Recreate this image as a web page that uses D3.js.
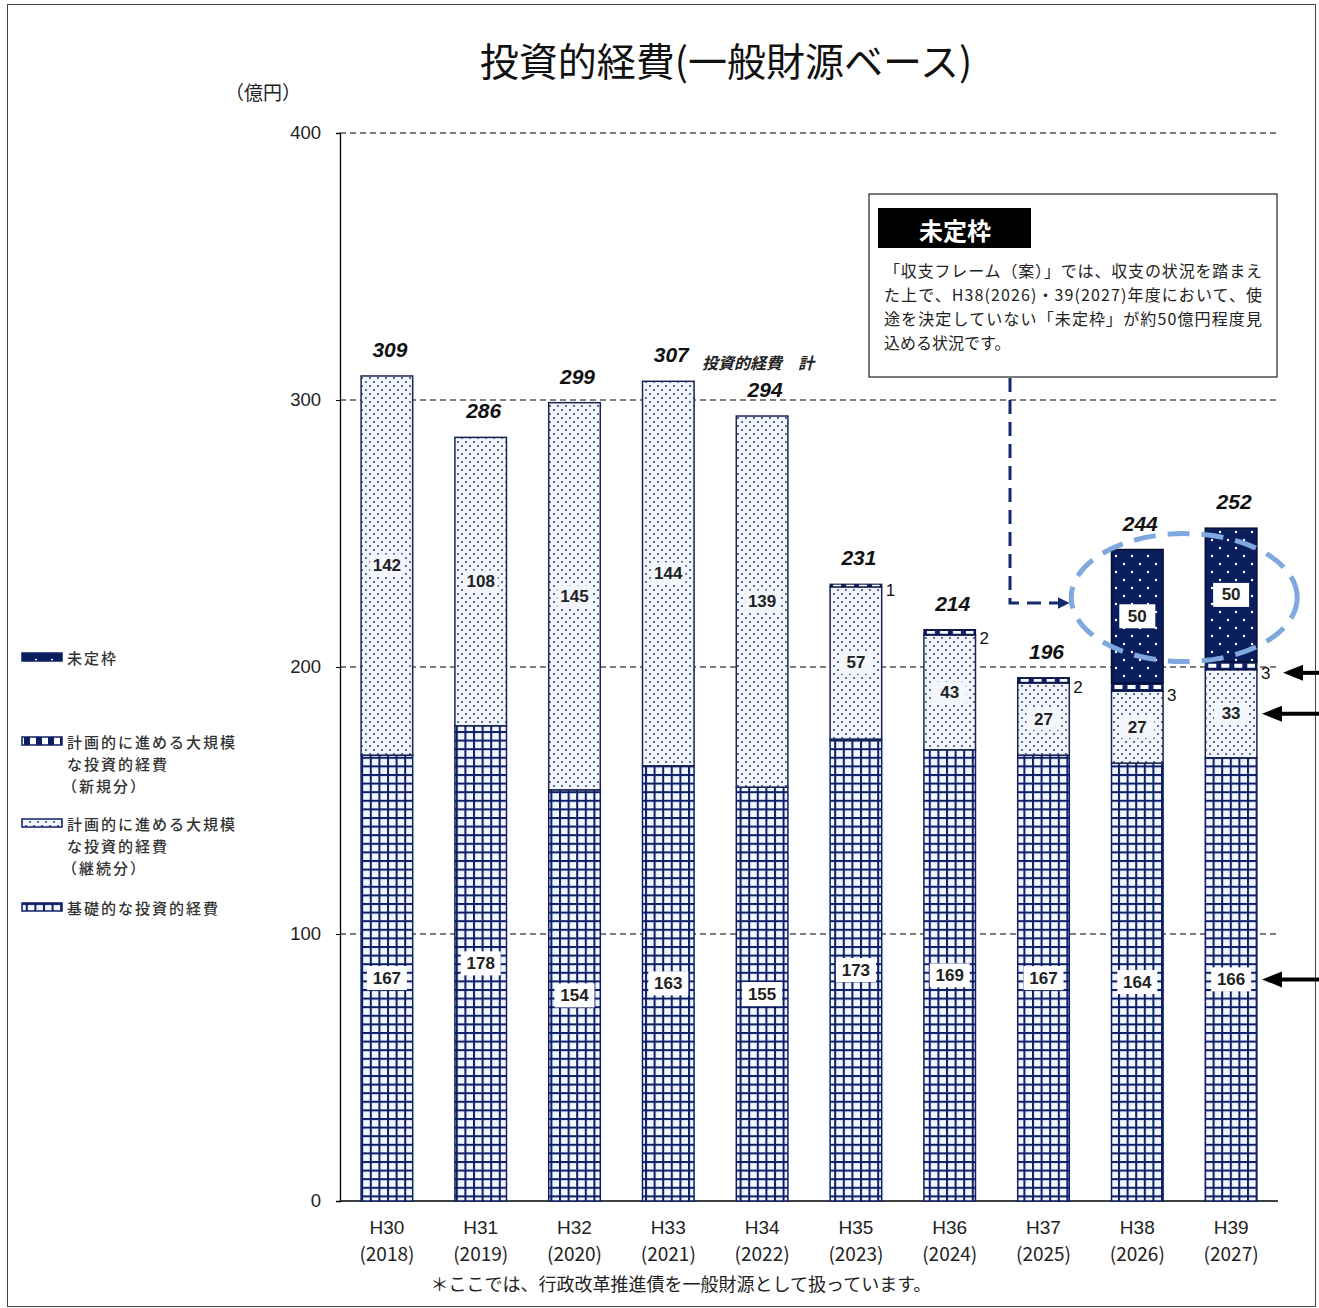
<!DOCTYPE html>
<html><head><meta charset="utf-8">
<script src="https://cdn.jsdelivr.net/npm/d3@7"></script>
<style>
html,body{margin:0;padding:0;background:#fff;}
svg{display:block;}
</style></head>
<body>
<svg id="c" width="1319" height="1308"></svg>
<script>
const categories = ["H30","H31","H32","H33","H34","H35","H36","H37","H38","H39"];
const years = ["(2018)","(2019)","(2020)","(2021)","(2022)","(2023)","(2024)","(2025)","(2026)","(2027)"];
const baseValues = [167,178,154,163,155,173,169,167,164,166];       // 基礎的な投資的経費
const contValues = [142,108,145,144,139,57,43,27,27,33];            // 計画的…（継続分）
const newValues  = [0,0,0,0,0,1,2,2,3,3];                           // 計画的…（新規分）
const undecidedValues = [0,0,0,0,0,0,0,0,50,50];                    // 未定枠
const totals = [309,286,299,307,294,231,214,196,244,252];
const yTicks = [0,100,200,300,400];

const NAVY = "#0c1f66";
const FONT_NUM = "'Liberation Sans', Arial, sans-serif";
const FONT_JP = "'Noto Sans CJK JP', 'Noto Sans', sans-serif";

const svg = d3.select("#c");
const defs = svg.append("defs");

// patterns
const pGrid = defs.append("pattern").attr("id","pGrid").attr("patternUnits","userSpaceOnUse")
  .attr("width",8.6).attr("height",8.6);
pGrid.append("rect").attr("width",8.6).attr("height",8.6).attr("fill","#f2f6ff");
pGrid.append("rect").attr("x",0).attr("y",0).attr("width",2).attr("height",8.6).attr("fill",NAVY);
pGrid.append("rect").attr("x",0).attr("y",0).attr("width",8.6).attr("height",2).attr("fill",NAVY);

const pDots = defs.append("pattern").attr("id","pDots").attr("patternUnits","userSpaceOnUse")
  .attr("width",8).attr("height",8);
pDots.append("rect").attr("width",8).attr("height",8).attr("fill","#f3f7fc");
pDots.append("circle").attr("cx",2).attr("cy",2).attr("r",1.05).attr("fill","#34498f");
pDots.append("circle").attr("cx",6).attr("cy",6).attr("r",1.05).attr("fill","#34498f");

const pDark = defs.append("pattern").attr("id","pDark").attr("patternUnits","userSpaceOnUse")
  .attr("width",16).attr("height",16);
pDark.append("rect").attr("width",16).attr("height",16).attr("fill","#0a1d5c");
pDark.append("circle").attr("cx",4).attr("cy",4).attr("r",1.2).attr("fill","#fff");
pDark.append("circle").attr("cx",12).attr("cy",12).attr("r",1.2).attr("fill","#fff");

const pLegNew = defs.append("pattern").attr("id","pLegNew").attr("patternUnits","userSpaceOnUse")
  .attr("width",12).attr("height",8);
pLegNew.append("rect").attr("width",12).attr("height",8).attr("fill","#fff");
pLegNew.append("rect").attr("x",0).attr("width",6).attr("height",8).attr("fill",NAVY);

// frame
svg.append("rect").attr("x",7.5).attr("y",4.5).attr("width",1308).attr("height",1302)
  .attr("fill","none").attr("stroke","#444").attr("stroke-width",1);

// scales
const x = d3.scaleBand().domain(categories).range([340,1278]).paddingInner(0.45).paddingOuter(0.225);
const y = d3.scaleLinear().domain([0,400]).range([1201,133]);

// grid lines
svg.append("g").selectAll("line").data(yTicks.filter(d=>d>0)).join("line")
  .attr("x1",340).attr("x2",1278).attr("y1",d=>y(d)).attr("y2",d=>y(d))
  .attr("stroke","#555").attr("stroke-width",1.3).attr("stroke-dasharray","6,4");

// y axis
const yAxis = d3.axisLeft(y).tickValues(yTicks).tickSize(4).tickPadding(15);
const gy = svg.append("g").attr("transform","translate(340,0)").call(yAxis);
gy.select(".domain").attr("stroke","#000").attr("stroke-width",1.3);
gy.selectAll(".tick line").attr("stroke","#000");
gy.selectAll("text").attr("font-family",FONT_NUM).attr("font-size",18.5).attr("fill","#222");

// x axis line
svg.append("line").attr("x1",340).attr("x2",1278).attr("y1",y(0)).attr("y2",y(0))
  .attr("stroke","#000").attr("stroke-width",1.5);

// stacked data
const rows = categories.map((c,i)=>{
  const b0 = 0, b1 = baseValues[i];
  const c0 = b1, c1 = b1 + contValues[i];
  const n0 = c1, n1 = c1 + newValues[i];
  const u0 = n1, u1 = n1 + undecidedValues[i];
  return {c,i,b0,b1,c0,c1,n0,n1,u0,u1};
});

const bars = svg.append("g");
rows.forEach(r=>{
  const bx = x(r.c), bw = x.bandwidth();
  bars.append("rect").attr("x",bx).attr("y",y(r.b1)).attr("width",bw).attr("height",y(r.b0)-y(r.b1))
    .attr("fill","url(#pGrid)").attr("stroke",NAVY).attr("stroke-width",1.5);
  bars.append("rect").attr("x",bx).attr("y",y(r.c1)).attr("width",bw).attr("height",y(r.c0)-y(r.c1))
    .attr("fill","url(#pDots)").attr("stroke","#1a2550").attr("stroke-width",1.5);
  if (newValues[r.i] > 0) {
    const h = y(r.n0)-y(r.n1);
    bars.append("rect").attr("x",bx).attr("y",y(r.n1)).attr("width",bw).attr("height",h)
      .attr("fill",NAVY).attr("stroke","#0a1440").attr("stroke-width",1.2);
    bars.append("line").attr("x1",bx+3).attr("x2",bx+bw-2)
      .attr("y1",(y(r.n0)+y(r.n1))/2).attr("y2",(y(r.n0)+y(r.n1))/2)
      .attr("stroke","#fff").attr("stroke-width",Math.max(1.5,h*0.5)).attr("stroke-dasharray","8,5");
  }
  if (undecidedValues[r.i] > 0) {
    bars.append("rect").attr("x",bx).attr("y",y(r.u1)).attr("width",bw).attr("height",y(r.u0)-y(r.u1))
      .attr("fill","url(#pDark)").attr("stroke","#050d30").attr("stroke-width",1.5);
  }
});

function boxLabel(cx, cy, txt, w) {
  bars.append("rect").attr("x",cx-w/2).attr("y",cy-12).attr("width",w).attr("height",24).attr("fill","#fff");
  bars.append("text").attr("x",cx).attr("y",cy).attr("text-anchor","middle").attr("dominant-baseline","central")
    .attr("font-family",FONT_NUM).attr("font-size",17).attr("font-weight","bold").attr("fill","#222").text(txt);
}
rows.forEach(r=>{
  const cx = x(r.c) + x.bandwidth()/2;
  boxLabel(cx, y((r.b0+r.b1)/2), baseValues[r.i], 40);
  const cy = y((r.c0+r.c1)/2);
  bars.append("rect").attr("x",cx-17).attr("y",cy-11).attr("width",34).attr("height",22).attr("fill","#f3f7fc");
  bars.append("text").attr("x",cx).attr("y",cy).attr("text-anchor","middle").attr("dominant-baseline","central")
    .attr("font-family",FONT_NUM).attr("font-size",17).attr("font-weight","bold").attr("fill","#222").text(contValues[r.i]);
  if (newValues[r.i] > 0) {
    bars.append("text").attr("x",x(r.c)+x.bandwidth()+4).attr("y",y(r.n0)+4)
      .attr("dominant-baseline","central")
      .attr("font-family",FONT_NUM).attr("font-size",17).attr("fill","#111").text(newValues[r.i]);
  }
  if (undecidedValues[r.i] > 0) {
    boxLabel(cx, y((r.u0+r.u1)/2), undecidedValues[r.i], 36);
  }
  svg.append("text").attr("x",cx+3).attr("y",y(totals[r.i])-19)
    .attr("text-anchor","middle").attr("font-family",FONT_NUM).attr("font-size",21)
    .attr("font-style","italic").attr("font-weight","bold").attr("fill","#111").text(totals[r.i]);
});

// 投資的経費 計 note next to H33 total
svg.append("text").attr("x",x("H33")+x.bandwidth()+8).attr("y",y(totals[3])-12)
  .attr("font-family",FONT_JP).attr("font-size",16).attr("font-style","italic").attr("font-weight","bold")
  .attr("fill","#222").text("投資的経費　計");

// x labels
const gx = svg.append("g");
categories.forEach((c,i)=>{
  const cx = x(c)+x.bandwidth()/2;
  gx.append("text").attr("x",cx).attr("y",1234).attr("text-anchor","middle")
    .attr("font-family",FONT_NUM).attr("font-size",19).attr("fill","#222").text(c);
  gx.append("text").attr("x",cx).attr("y",1261).attr("text-anchor","middle")
    .attr("font-family",FONT_JP).attr("font-size",19).attr("fill","#222").text(years[i]);
});

// title & unit
svg.append("text").attr("x",726).attr("y",76).attr("text-anchor","middle")
  .attr("font-family",FONT_JP).attr("font-size",39).attr("fill","#111").text("投資的経費(一般財源ベース)");
svg.append("text").attr("x",263).attr("y",100).attr("text-anchor","middle")
  .attr("font-family",FONT_JP).attr("font-size",19).attr("fill","#222").text("（億円）");

// footnote
svg.append("text").attr("x",681).attr("y",1291).attr("text-anchor","middle")
  .attr("font-family",FONT_JP).attr("font-size",18).attr("fill","#222")
  .text("＊ここでは、行政改革推進債を一般財源として扱っています。");

// legend
const legend = [
  {fill:"url(#pDark)", lines:["未定枠"], y:657},
  {fill:"url(#pLegNew)", lines:["計画的に進める大規模","な投資的経費","（新規分）"], y:741},
  {fill:"url(#pDots)", lines:["計画的に進める大規模","な投資的経費","（継続分）"], y:823},
  {fill:"url(#pGrid)", lines:["基礎的な投資的経費"], y:907}
];
const lg = svg.append("g");
legend.forEach(l=>{
  lg.append("rect").attr("x",22).attr("y",l.y-4).attr("width",40).attr("height",8)
    .attr("fill",l.fill).attr("stroke",NAVY).attr("stroke-width",1.5);
  l.lines.forEach((t,k)=>{
    lg.append("text").attr("x", k===2 ? 62 : 67).attr("y",l.y+k*22).attr("dominant-baseline","central")
      .attr("font-family",FONT_JP).attr("font-size",15).attr("letter-spacing",2)
      .attr("font-weight",500).attr("fill","#333").text(t);
  });
});

// annotation box
const ab = svg.append("g");
ab.append("rect").attr("x",869).attr("y",194).attr("width",408).attr("height",183)
  .attr("fill","#fff").attr("stroke","#222").attr("stroke-width",1.2);
ab.append("rect").attr("x",878).attr("y",208).attr("width",153).attr("height",40).attr("fill","#000");
ab.append("text").attr("x",955).attr("y",229).attr("text-anchor","middle").attr("dominant-baseline","central")
  .attr("font-family",FONT_JP).attr("font-size",24).attr("font-weight","bold").attr("fill","#fff").text("未定枠");
const noteLines = ["「収支フレーム（案）」では、収支の状況を踏まえ",
  "た上で、H38(2026)・39(2027)年度において、使",
  "途を決定していない「未定枠」が約50億円程度見",
  "込める状況です。"];
noteLines.forEach((t,k)=>{
  const tx = ab.append("text").attr("x",884).attr("y",270+k*24).attr("dominant-baseline","central")
    .attr("font-family",FONT_JP).attr("font-size",16).attr("fill","#222").text(t);
  if (k<3) tx.attr("textLength",378).attr("lengthAdjust","spacing");
});

// dashed connector with arrow
defs.append("marker").attr("id","arrN").attr("viewBox","0 0 10 10").attr("refX",2).attr("refY",5)
  .attr("markerWidth",4).attr("markerHeight",4).attr("orient","auto")
  .append("path").attr("d","M0,0 L10,5 L0,10 Z").attr("fill","#14296e");
svg.append("path").attr("d","M1010,378 L1010,603 L1060,603")
  .attr("fill","none").attr("stroke","#14296e").attr("stroke-width",3)
  .attr("stroke-dasharray","14,8").attr("marker-end","url(#arrN)");

// ellipse highlight
const ecx = (x("H38")+x("H39")+x.bandwidth())/2;
svg.append("ellipse").attr("cx",ecx).attr("cy",y(226)).attr("rx",113).attr("ry",64)
  .attr("fill","none").attr("stroke","#7ea8de").attr("stroke-width",5).attr("stroke-dasharray","22,12");

// black arrows pointing to H39 values
const arrows = [
  {yv: rows[9].n0 - 1.2, tip: 1283},
  {yv: (rows[9].c0+rows[9].c1)/2, tip: 1262},
  {yv: (rows[9].b0+rows[9].b1)/2, tip: 1262}
];
arrows.forEach(a=>{
  const ay = y(a.yv);
  svg.append("line").attr("x1",a.tip+14).attr("x2",1319).attr("y1",ay).attr("y2",ay)
    .attr("stroke","#000").attr("stroke-width",4);
  svg.append("path").attr("d",`M${a.tip},${ay} L${a.tip+20},${ay-8} L${a.tip+20},${ay+8} Z`).attr("fill","#000");
});
</script>
</body></html>
